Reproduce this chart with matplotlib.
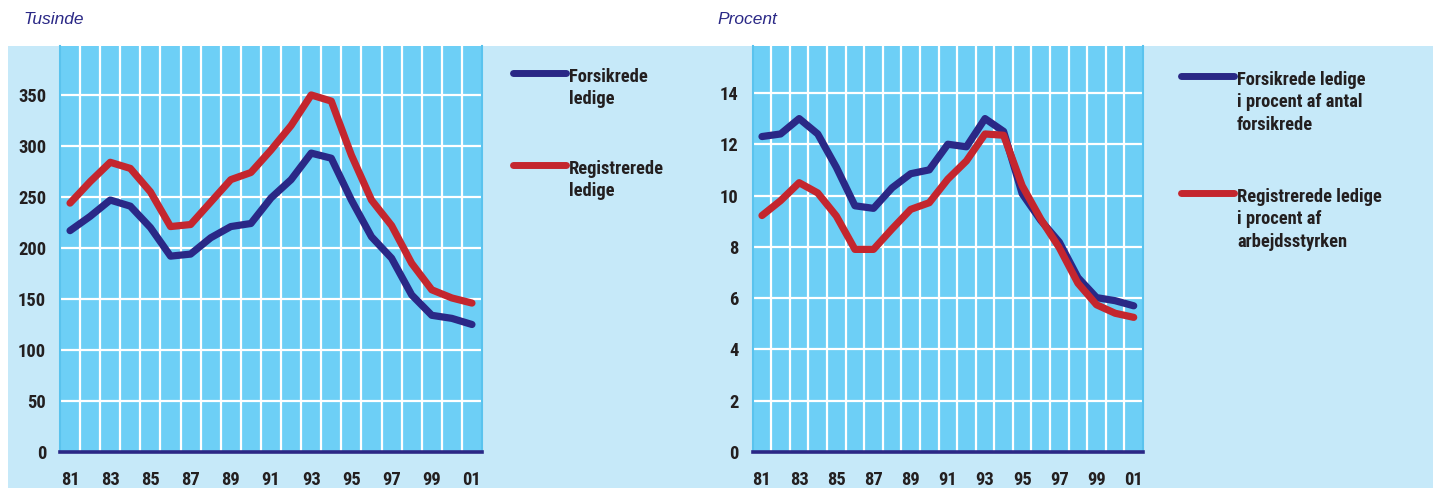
import matplotlib.pyplot as plt
import matplotlib.font_manager as fm
from matplotlib.lines import Line2D
from matplotlib.patches import Rectangle

# data
years = list(range(1981, 2002))
year_labels = ['81', '83', '85', '87', '89', '91', '93', '95', '97', '99', '01']

forsikrede = [217, 231, 247, 241, 220, 192, 194, 210, 221, 224, 249,
              267, 293, 288, 247, 211, 190, 154, 134, 131, 125]
registrerede = [244, 265, 284, 278, 255, 221, 223, 245, 267, 274, 296,
                320, 350, 344, 291, 247, 222, 185, 159, 151, 146]

forsikrede_pct = [12.3, 12.4, 13.0, 12.4, 11.1, 9.6, 9.5, 10.3, 10.85, 11.0, 12.0,
                  11.9, 13.0, 12.5, 10.07, 9.03, 8.18, 6.8, 6.02, 5.9, 5.7]
registrerede_pct = [9.22, 9.8, 10.5, 10.1, 9.2, 7.9, 7.9, 8.7, 9.46, 9.72, 10.64,
                    11.35, 12.4, 12.35, 10.38, 9.08, 7.96, 6.58, 5.74, 5.41, 5.25]

left_ticks = [0, 50, 100, 150, 200, 250, 300, 350]
right_ticks = [0, 2, 4, 6, 8, 10, 12, 14]

legend_left = ['Forsikrede\nledige', 'Registrerede\nledige']
legend_right = ['Forsikrede ledige\ni procent af antal\nforsikrede',
                'Registrerede ledige\ni procent af\narbejdsstyrken']

NAVY = '#2A2886'
RED = '#C4262E'
PALE = '#C6E9F9'
SKY = '#6DCFF6'
TEXT = '#231F20'

# pick a narrow bold face if one is installed
installed = {f.name for f in fm.fontManager.ttflist}
NARROW = 'Roboto'
for cand in ['Liberation Sans Narrow', 'DejaVu Sans Condensed', 'Roboto Condensed',
             'Open Sans Condensed', 'Noto Sans Condensed', 'Arial Narrow']:
    if cand in installed:
        NARROW = cand
        break
FONT = [NARROW, 'DejaVu Sans']
FSIZE = 13.3 if NARROW != 'Roboto' else 12.5

W, H = 1433, 488
fig = plt.figure(figsize=(W / 100, H / 100), dpi=100)
fig.patch.set_facecolor('white')


def fx(x):
    return x / W


def fy(y):
    return 1 - y / H


fig.patches.append(Rectangle((fx(8), 0), 1 - fx(8), fy(46), transform=fig.transFigure,
                             facecolor=PALE, edgecolor='none', zorder=-5))


def panel(x0, x1, ymax, ticks, s1, s2):
    ax = fig.add_axes([fx(x0), fy(452), fx(x1 - x0), (452 - 46) / H])
    ax.set_facecolor(SKY)
    ax.set_xlim(80.5 + 1900, 101.5 + 1900)
    ax.set_ylim(0, ymax)
    ax.set_xticks([1900 + 81 + 2 * i for i in range(len(year_labels))])
    ax.set_xticklabels(year_labels)
    ax.set_xticks([y + 0.5 for y in years[:-1]], minor=True)
    ax.set_yticks(ticks)
    ax.grid(which='minor', axis='x', color='white', lw=1.6)
    ax.grid(which='major', axis='y', color='white', lw=1.6)
    ax.grid(which='major', axis='x', visible=False)
    ax.tick_params(which='both', length=0)
    ax.tick_params(axis='y', pad=10)
    ax.tick_params(axis='x', pad=14)
    for lab in ax.get_xticklabels() + ax.get_yticklabels():
        lab.set_family(FONT)
        lab.set_weight('bold')
        lab.set_fontsize(FSIZE)
        lab.set_color(TEXT)
    for side in ['top', 'bottom']:
        ax.spines[side].set_visible(False)
    for side in ['left', 'right']:
        ax.spines[side].set_color('#5AC3EE')
        ax.spines[side].set_linewidth(1.5)
    ax.plot(years, s1, color=NAVY, lw=5.2, solid_capstyle='round', solid_joinstyle='round', zorder=3)
    ax.plot(years, s2, color=RED, lw=5.2, solid_capstyle='round', solid_joinstyle='round', zorder=4)
    ax.axhline(0, color=NAVY, lw=2.6, clip_on=False, zorder=5)
    return ax


panel(60, 482, 398, left_ticks, forsikrede, registrerede)
panel(752.7, 1143, 15.83, right_ticks, forsikrede_pct, registrerede_pct)

fig.text(fx(23), fy(20), 'Tusinde', family=['Liberation Sans', 'DejaVu Sans'], style='italic',
         fontsize=12.5, color=NAVY, va='center', ha='left')
fig.text(fx(717), fy(20), 'Procent', family=['Liberation Sans', 'DejaVu Sans'], style='italic',
         fontsize=12.5, color=NAVY, va='center', ha='left')


def legend_entry(x0, x1, y, label, color):
    fig.add_artist(Line2D([fx(x0), fx(x1)], [fy(y), fy(y)], transform=fig.transFigure,
                          color=color, lw=5, solid_capstyle='round'))
    fig.text(fx(x1 + 3), fy(y - 5), label, family=FONT, weight='bold', fontsize=FSIZE,
             color=TEXT, va='top', ha='left', linespacing=1.32)


legend_entry(513, 566, 73, legend_left[0], NAVY)
legend_entry(513, 566, 165, legend_left[1], RED)
legend_entry(1181, 1234, 76, legend_right[0], NAVY)
legend_entry(1181, 1234, 193, legend_right[1], RED)

fig.savefig('out.png', dpi=100, facecolor='white')
